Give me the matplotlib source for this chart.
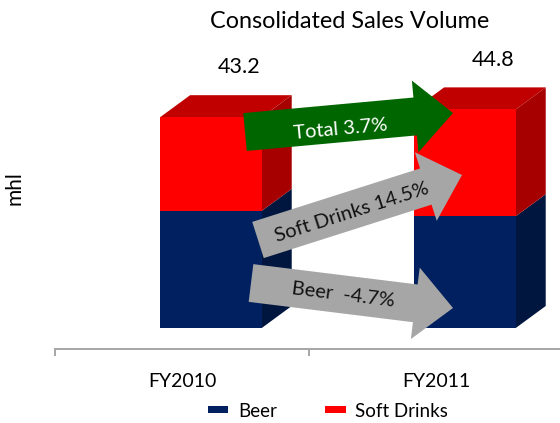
import matplotlib
matplotlib.use("Agg")
import matplotlib.pyplot as plt
from matplotlib.patches import Polygon, Patch
import numpy as np

# ---- data ----
categories = ["FY2010", "FY2011"]
beer = [24.0, 22.9]
soft_drinks = [19.2, 21.9]
totals = [43.2, 44.8]
series_names = ["Beer", "Soft Drinks"]
chart_title = "Consolidated Sales Volume"
y_label = "mhl"
growth_labels = ["Total 3.7%", "Soft Drinks 14.5%", "Beer  -4.7%"]

# ---- style ----
NAVY, NAVY_SIDE = "#002060", "#00163f"
RED, RED_TOP, RED_SIDE = "#ff0000", "#c00000", "#a60000"
GREEN, GREY = "#006600", "#a6a6a6"
AXIS_GREY = "#a6a6a6"

W, H, DPI = 560, 423, 100
plt.rcParams["font.family"] = ["Lato", "DejaVu Sans"]

fig = plt.figure(figsize=(W / DPI, H / DPI), dpi=DPI)

# plot area, in pixels
ax_left, ax_right, ax_top, ax_bottom = 55, 563, 30, 349
base_px, px_per_unit = 328, 4.88
ax = fig.add_axes([ax_left / W, 1 - ax_bottom / H,
                   (ax_right - ax_left) / W, (ax_bottom - ax_top) / H])
ax.set_xlim(-0.5, 1.5)
ax.set_ylim(-(ax_bottom - base_px) / px_per_unit, (base_px - ax_top) / px_per_unit)

# pseudo-3D bar geometry (category units / value units)
bar_shift, bar_w = 0.114, 0.40
depth_x, depth_y = 0.118, 22 / px_per_unit

x = np.arange(len(categories))
front = x + bar_shift
beer_arr = np.array(beer)
soft_arr = np.array(soft_drinks)

ax.bar(front, beer_arr, bar_w, color=NAVY, zorder=2, linewidth=0)
ax.bar(front, soft_arr, bar_w, bottom=beer_arr, color=RED, zorder=2, linewidth=0)


def side_face(xc, y0, y1, color):
    xr = xc + bar_w / 2
    pts = [(xr, y0), (xr + depth_x, y0 + depth_y), (xr + depth_x, y1 + depth_y), (xr, y1)]
    ax.add_patch(Polygon(pts, closed=True, facecolor=color, edgecolor="none", zorder=1.9))


def top_face(xc, y, color):
    xl, xr = xc - bar_w / 2, xc + bar_w / 2
    pts = [(xl, y), (xl + depth_x, y + depth_y), (xr + depth_x, y + depth_y), (xr, y)]
    ax.add_patch(Polygon(pts, closed=True, facecolor=color, edgecolor="none", zorder=1.9))


for xc, b, s in zip(front, beer_arr, soft_arr):
    side_face(xc, 0, b, NAVY_SIDE)
    side_face(xc, b, b + s, RED_SIDE)
    top_face(xc, b + s, RED_TOP)

# total labels above each bar
for xi, t in zip(x, totals):
    ax.annotate(f"{t:.1f}", xy=(xi + 0.225, t + depth_y), xytext=(0, 20),
                textcoords="offset points", ha="center", va="center",
                fontsize=15.5, color="black")

# axes styling
for side in ("left", "right", "top"):
    ax.spines[side].set_visible(False)
ax.spines["bottom"].set_color(AXIS_GREY)
ax.spines["bottom"].set_linewidth(1.4)
ax.set_yticks([])
ax.set_xticks(x)
ax.set_xticklabels(categories, fontsize=14)
ax.tick_params(axis="x", which="major", length=0, pad=17)
ax.set_xticks([-0.5, 0.5, 1.5], minor=True)
ax.tick_params(axis="x", which="minor", length=5, width=1.4, color=AXIS_GREY)
ax.patch.set_alpha(0)

fig.text(350 / W, 1 - 22 / H, chart_title, ha="center", va="center", fontsize=16.8)
fig.text(14 / W, 1 - 188 / H, y_label, ha="center", va="center", rotation=90, fontsize=15)

# growth arrows drawn on a pixel-space overlay
ov = fig.add_axes([0, 0, 1, 1])
ov.set_xlim(0, W)
ov.set_ylim(H, 0)
ov.axis("off")

arrow_layout = [
    # tail centre, tip, label centre, fill, text colour
    ((245, 132), (453, 113), (340, 129), GREEN, "white"),
    ((258, 240), (462, 175), (352, 212), GREY, "#111111"),
    ((251, 283), (453, 308), (343, 295), GREY, "#111111"),
]
shaft_w, head_w, head_len = 38, 72, 38

for (tail, tip, lab, fc, tc), text in zip(arrow_layout, growth_labels):
    t = np.array(tail, float)
    p = np.array(tip, float)
    d = p - t
    u = d / np.hypot(*d)
    n = np.array([-u[1], u[0]])
    base = p - u * head_len
    pts = [t + n * shaft_w / 2, base + n * shaft_w / 2, base + n * head_w / 2, p,
           base - n * head_w / 2, base - n * shaft_w / 2, t - n * shaft_w / 2]
    ov.add_patch(Polygon(pts, closed=True, facecolor=fc, edgecolor="none"))
    ang = np.degrees(np.arctan2(-d[1], d[0]))
    ov.text(lab[0], lab[1], text, rotation=ang, rotation_mode="anchor",
            ha="center", va="center", fontsize=14.5, color=tc)

handles = [Patch(facecolor=NAVY, label=series_names[0]),
           Patch(facecolor=RED, label=series_names[1])]
fig.legend(handles=handles, loc="center", bbox_to_anchor=(328 / W, 1 - 411 / H),
           ncol=2, frameon=False, fontsize=13.5, handlelength=1.1, handleheight=0.2,
           handletextpad=0.5, columnspacing=2.6)

fig.savefig("out.png", dpi=DPI)
